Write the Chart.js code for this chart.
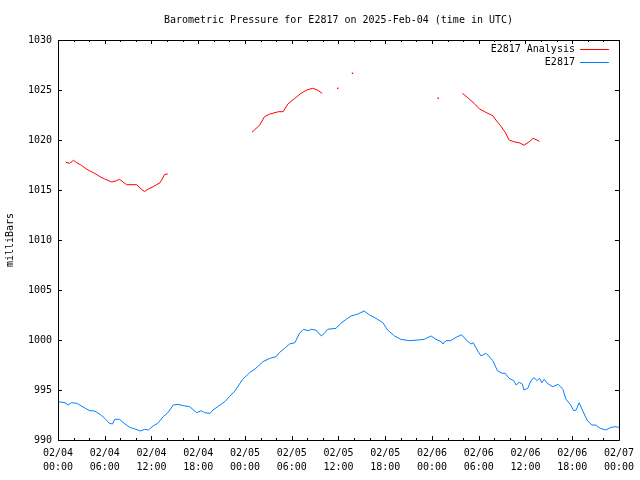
<!DOCTYPE html>
<html>
<head>
<meta charset="utf-8">
<script src="https://cdn.jsdelivr.net/npm/chart.js@4/dist/chart.umd.min.js"></script>
<style>
  html, body { margin: 0; padding: 0; background: #fff; }
  #wrap { width: 640px; height: 480px; }
</style>
</head>
<body>
<div id="wrap"><canvas id="chart" width="640" height="480"></canvas></div>
<script>
// hours since 2025-02-04 00:00 UTC
const redHours = [1.0, 1.5, 2.0, 2.4, 3.0, 3.7, 4.1, 4.7, 5.4, 6.0, 6.9, 7.5, 7.9, 8.8, 10.1, 10.7, 11.1, 11.6, 12.2, 13.1, 13.7, 14.1,
  19.5,
  24.9, 25.9, 26.5, 27.2, 28.3, 28.9, 29.5, 30.4, 31.2, 31.9, 32.7, 33.3, 33.9,
  34.9, 35.9, 36.9, 37.8, 38.8, 48.8, 50.0,
  51.9, 52.6, 53.4, 54.1, 54.9, 55.8, 56.2, 56.8, 57.4, 57.9, 58.5, 59.3, 59.8, 60.5, 61.0, 61.8];
const redValues = [1017.77, 1017.67, 1017.97, 1017.73, 1017.47, 1017.07, 1016.9, 1016.67, 1016.33, 1016.1, 1015.8, 1015.93, 1016.07, 1015.53, 1015.53, 1015.07, 1014.85, 1015.1, 1015.33, 1015.73, 1016.57, 1016.6,
  null,
  1020.77, 1021.5, 1022.33, 1022.6, 1022.83, 1022.83, 1023.6, 1024.17, 1024.67, 1025.0, 1025.17, 1025.0, 1024.67,
  null, 1025.17, null, 1026.67, null, 1024.17, null,
  1024.67, 1024.23, 1023.67, 1023.1, 1022.77, 1022.43, 1022.0, 1021.43, 1020.77, 1020.0, 1019.83, 1019.7, 1019.47, 1019.83, 1020.17, 1019.87];

const blueHours = [0.0, 0.9, 1.3, 1.75, 2.4, 2.8, 3.5, 4.1, 4.7, 5.4, 6.0, 6.6, 7.0, 7.3, 7.9, 8.6, 9.2, 10.0, 10.6, 11.1, 11.6, 12.2, 12.8, 13.5, 14.1, 14.8, 15.4, 16.1, 16.9, 17.8, 18.4, 18.8, 19.5, 19.9, 20.8, 21.4, 22.0, 22.7,
  23.7, 24.6, 25.4, 26.3, 27.2, 28.0, 28.4, 29.1, 29.7, 30.4, 31.0, 31.5, 32.1, 32.5, 33.1, 33.8, 34.2, 34.6, 35.7, 36.3, 37.0, 37.6, 38.5, 39.3, 40.0, 40.8, 41.7, 42.3, 43.2, 44.0, 45.1, 46.2,
  47.0, 47.9, 48.5, 49.2, 49.4, 49.8, 50.4, 51.1, 51.8, 52.4, 53.0, 53.3, 53.8, 54.3, 54.9, 55.3, 55.8, 56.4, 57.0, 57.4, 57.9, 58.5, 58.8, 59.2, 59.6, 59.8, 60.3, 60.7, 61.1, 61.5, 61.8, 62.1, 62.4, 62.8,
  63.5, 64.2, 64.8, 65.2, 65.8, 66.2, 66.5, 66.9, 67.3, 67.9, 68.5, 69.0, 69.6, 70.3, 70.9, 71.5, 72.0];
const blueValues = [993.83, 993.73, 993.5, 993.73, 993.67, 993.5, 993.17, 992.93, 992.9, 992.57, 992.17, 991.67, 991.6, 992.07, 992.07, 991.6, 991.27, 991.07, 990.9, 991.07, 991.0, 991.4, 991.67, 992.33, 992.73, 993.5, 993.57, 993.43, 993.33, 992.73, 992.93, 992.73, 992.67, 993.0, 993.5, 993.83, 994.33, 994.9,
  996.07, 996.73, 997.17, 997.83, 998.17, 998.33, 998.73, 999.17, 999.6, 999.73, 1000.67, 1001.07, 1000.93, 1001.07, 1001.0, 1000.4, 1000.67, 1001.07, 1001.17, 1001.67, 1002.07, 1002.4, 1002.6, 1002.9, 1002.5, 1002.17, 1001.73, 1001.0, 1000.4, 1000.07, 999.93, 1000.0,
  1000.07, 1000.4, 1000.07, 999.83, 999.6, 999.93, 999.93, 1000.27, 1000.53, 1000.0, 999.6, 999.73, 999.0, 998.4, 998.67, 998.4, 997.93, 996.93, 996.67, 996.67, 996.17, 995.93, 995.5, 995.77, 995.6, 995.0, 995.17, 995.93, 996.23, 995.93, 996.17, 995.73, 996.07, 995.67,
  995.33, 995.57, 995.07, 994.07, 993.5, 992.93, 993.0, 993.73, 993.0, 992.0, 991.5, 991.5, 991.17, 991.0, 991.23, 991.33, 991.27];

const seriesNames = ["E2817 Analysis", "E2817"];
const seriesColors = ["#ff0000", "#0080ff"];
const xTickHours = [0, 6, 12, 18, 24, 30, 36, 42, 48, 54, 60, 66, 72];
const yTicks = [990, 995, 1000, 1005, 1010, 1015, 1020, 1025, 1030];

const FONT = "DejaVu Sans Mono";

function pts(xs, ys) {
  return xs.map((h, i) => ({ x: h, y: ys[i] }));
}

// gnuplot-ish frame, inward ticks and legend
const framePlugin = {
  id: "frame",
  afterLayout(chart) {
    // center the title over the plot area like gnuplot does
    if (chart.titleBlock) {
      chart.titleBlock.left = chart.chartArea.left;
      chart.titleBlock.right = chart.chartArea.right;
    }
  },
  afterDraw(chart) {
    const ctx = chart.ctx;
    const a = chart.chartArea;
    const xs = chart.scales.x, ys = chart.scales.y;
    ctx.save();
    ctx.strokeStyle = "#000";
    ctx.lineWidth = 1;
    ctx.beginPath();
    ctx.rect(Math.round(a.left) + 0.5, Math.round(a.top) + 0.5, Math.round(a.right - a.left), Math.round(a.bottom - a.top));
    // x ticks every 2 hours, longer at the labelled ones
    for (let h = 0; h <= 72; h += 2) {
      const px = Math.round(xs.getPixelForValue(h)) + 0.5;
      const len = xTickHours.includes(h) ? 4 : 2;
      ctx.moveTo(px, a.bottom); ctx.lineTo(px, a.bottom - len);
      ctx.moveTo(px, a.top); ctx.lineTo(px, a.top + len);
    }
    yTicks.forEach(v => {
      const py = Math.round(ys.getPixelForValue(v)) + 0.5;
      ctx.moveTo(a.left, py); ctx.lineTo(a.left + 4, py);
      ctx.moveTo(a.right, py); ctx.lineTo(a.right - 4, py);
    });
    ctx.stroke();

    // legend
    ctx.font = "10px " + FONT;
    ctx.textAlign = "right";
    ctx.textBaseline = "middle";
    chart.data.datasets.forEach((ds, i) => {
      const y = Math.round(a.top + 9 + i * 13) + 0.5;
      ctx.fillStyle = "#000";
      ctx.fillText(ds.label, a.right - 44, y);
      ctx.strokeStyle = ds.borderColor;
      ctx.beginPath();
      ctx.moveTo(a.right - 39, y); ctx.lineTo(a.right - 10, y);
      ctx.stroke();
    });
    ctx.restore();
  }
};

new Chart(document.getElementById("chart").getContext("2d"), {
  type: "line",
  data: {
    datasets: [
      {
        label: seriesNames[0],
        data: pts(redHours, redValues),
        borderColor: seriesColors[0],
        backgroundColor: seriesColors[0],
        borderWidth: 1,
        spanGaps: false,
        pointStyle: "rect",
        pointBorderWidth: 0,
        // lone readings between gaps show as dots
        pointRadius: function (c) {
          const d = c.dataset.data, i = c.dataIndex;
          if (d[i].y === null) return 0;
          const prev = i > 0 ? d[i - 1].y : null;
          const next = i < d.length - 1 ? d[i + 1].y : null;
          return (prev === null && next === null) ? 1 : 0;
        },
        tension: 0
      },
      {
        label: seriesNames[1],
        data: pts(blueHours, blueValues),
        borderColor: seriesColors[1],
        borderWidth: 1,
        pointRadius: 0,
        tension: 0
      }
    ]
  },
  options: {
    responsive: false,
    animation: false,
    devicePixelRatio: 1,
    layout: { padding: { left: 0, right: 20, top: 0, bottom: 0 } },
    plugins: {
      legend: { display: false },
      tooltip: { enabled: false },
      title: {
        display: true,
        text: "Barometric Pressure for E2817 on 2025-Feb-04 (time in UTC)",
        color: "#000",
        font: { family: FONT, size: 10, weight: "normal", lineHeight: 1.2 },
        padding: { top: 14, bottom: 14 }
      }
    },
    scales: {
      x: {
        type: "linear",
        min: 0,
        max: 72,
        afterBuildTicks: s => { s.ticks = xTickHours.map(v => ({ value: v })); },
        afterFit: s => { s.height = 40; },
        grid: { display: false, drawTicks: false },
        border: { display: false },
        ticks: {
          autoSkip: false,
          maxRotation: 0,
          padding: 6,
          color: "#000",
          font: { family: FONT, size: 10, lineHeight: 1.4 },
          callback: function (v) {
            const day = 4 + Math.floor(v / 24);
            const hh = v % 24;
            return ["02/" + String(day).padStart(2, "0"), String(hh).padStart(2, "0") + ":00"];
          }
        }
      },
      y: {
        min: 990,
        max: 1030,
        afterBuildTicks: s => { s.ticks = yTicks.map(v => ({ value: v })); },
        afterFit: s => { s.width = 58; },
        grid: { display: false, drawTicks: false },
        border: { display: false },
        title: {
          display: true,
          text: "milliBars",
          color: "#000",
          font: { family: FONT, size: 10, lineHeight: 1.2 },
          padding: { top: 4, bottom: 0 }
        },
        ticks: {
          padding: 6,
          color: "#000",
          font: { family: FONT, size: 10 },
          callback: v => String(v)
        }
      }
    }
  },
  plugins: [framePlugin]
});
</script>
</body>
</html>
